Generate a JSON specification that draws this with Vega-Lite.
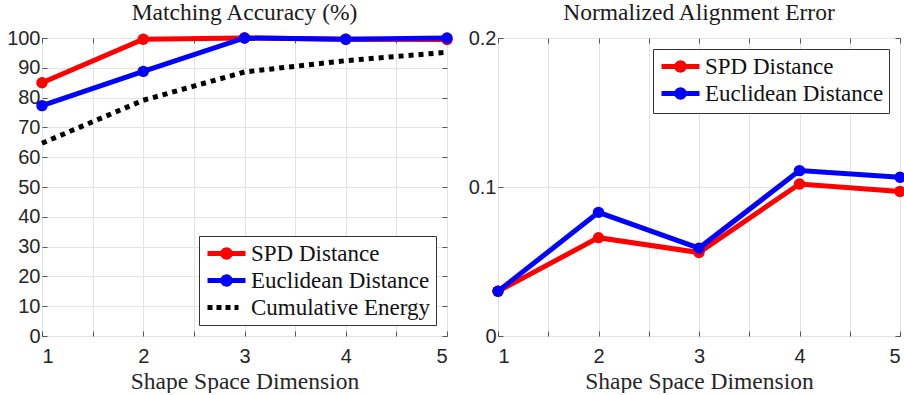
{
  "$schema": "https://vega.github.io/schema/vega-lite/v6.json",
  "background": "white",
  "padding": {"left": 6, "top": 0, "right": 0, "bottom": 0},
  "bounds": "flush",
  "spacing": 51,
  "datasets": {
    "acc": [
      {"dim": 1, "series": "SPD Distance", "value": 85.0},
      {"dim": 2, "series": "SPD Distance", "value": 99.6},
      {"dim": 3, "series": "SPD Distance", "value": 100.0},
      {"dim": 4, "series": "SPD Distance", "value": 99.6},
      {"dim": 5, "series": "SPD Distance", "value": 99.5},
      {"dim": 1, "series": "Euclidean Distance", "value": 77.3},
      {"dim": 2, "series": "Euclidean Distance", "value": 88.8},
      {"dim": 3, "series": "Euclidean Distance", "value": 100.0},
      {"dim": 4, "series": "Euclidean Distance", "value": 99.6},
      {"dim": 5, "series": "Euclidean Distance", "value": 100.0},
      {"dim": 1, "series": "Cumulative Energy", "value": 64.7},
      {"dim": 2, "series": "Cumulative Energy", "value": 79.1},
      {"dim": 3, "series": "Cumulative Energy", "value": 88.6},
      {"dim": 4, "series": "Cumulative Energy", "value": 92.4},
      {"dim": 5, "series": "Cumulative Energy", "value": 95.2}
    ],
    "err": [
      {"dim": 1, "series": "SPD Distance", "value": 0.030},
      {"dim": 2, "series": "SPD Distance", "value": 0.066},
      {"dim": 3, "series": "SPD Distance", "value": 0.056},
      {"dim": 4, "series": "SPD Distance", "value": 0.102},
      {"dim": 5, "series": "SPD Distance", "value": 0.097},
      {"dim": 1, "series": "Euclidean Distance", "value": 0.030},
      {"dim": 2, "series": "Euclidean Distance", "value": 0.083},
      {"dim": 3, "series": "Euclidean Distance", "value": 0.059},
      {"dim": 4, "series": "Euclidean Distance", "value": 0.111},
      {"dim": 5, "series": "Euclidean Distance", "value": 0.1065}
    ]
  },
  "config": {
    "view": {"stroke": "#555555", "strokeWidth": 1},
    "axis": {
      "labelFont": "Liberation Sans",
      "labelFontSize": 20,
      "labelColor": "#262626",
      "titleFont": "Liberation Serif",
      "titleFontSize": 23.5,
      "titleFontWeight": "normal",
      "titleColor": "#262626",
      "gridColor": "#e3e3e3",
      "gridWidth": 1,
      "tickColor": "#555555",
      "tickSize": -5,
      "domain": false
    },
    "title": {"font": "Liberation Serif", "fontSize": 23.5, "fontWeight": "normal", "color": "#1a1a1a", "offset": 0},
    "legend": {
      "labelFont": "Liberation Serif",
      "labelFontSize": 23,
      "labelColor": "#111111",
      "labelLimit": 0,
      "strokeColor": "#333333",
      "fillColor": "white",
      "padding": 5,
      "rowPadding": -2,
      "symbolSize": 400,
      "symbolOffset": 10,
      "labelOffset": 12,
      "symbolStrokeWidth": 5,
      "offset": 11,
      "title": null
    }
  },
  "resolve": {"scale": {"color": "independent"}, "legend": {"color": "independent"}},
  "hconcat": [
    {
      "title": "Matching Accuracy (%)",
      "width": 405,
      "height": 298,
      "data": {"name": "acc"},
      "resolve": {"axis": {"x": "independent", "y": "independent"}},
      "layer": [
        {
          "transform": [{"filter": "datum.series === 'Cumulative Energy'"}],
          "mark": {"type": "line", "strokeWidth": 5, "strokeDash": [5, 5], "strokeCap": "butt"},
          "encoding": {
            "x": {"field": "dim", "type": "quantitative", "scale": {"domain": [1, 5], "nice": false},
              "axis": {"orient": "bottom", "values": [1, 1.5, 2, 2.5, 3, 3.5, 4, 4.5, 5], "labelExpr": "datum.value % 1 === 0 ? '' + datum.value : ''", "title": "Shape Space Dimension", "grid": true, "labelPadding": 15, "titlePadding": 3}},
            "y": {"field": "value", "type": "quantitative", "scale": {"domain": [0, 100], "nice": false},
              "axis": {"orient": "left", "values": [0, 10, 20, 30, 40, 50, 60, 70, 80, 90, 100], "title": null, "grid": true, "labelPadding": 7}},
            "color": {"field": "series", "type": "nominal",
              "scale": {"domain": ["SPD Distance", "Euclidean Distance", "Cumulative Energy"], "range": ["#ff0000", "#0000ff", "#000000"]},
              "legend": {"orient": "bottom-right",
                "encode": {"symbols": {"update": {
                  "shape": [{"test": "datum.value === 'Cumulative Energy'", "value": "M-1.9,0H1.2"}, {"value": "M-1.9,0H1.9M0.37,0L0.32,0.185L0.185,0.32L0,0.37L-0.185,0.32L-0.32,0.185L-0.37,0L-0.32,-0.185L-0.185,-0.32L0,-0.37L0.185,-0.32L0.32,-0.185Z"}],
                  "fill": [{"test": "datum.value === 'SPD Distance'", "value": "#ff0000"}, {"test": "datum.value === 'Euclidean Distance'", "value": "#0000ff"}, {"value": "transparent"}],
                  "strokeDash": [{"test": "datum.value === 'Cumulative Energy'", "value": [5, 4]}, {"value": [1, 0]}],
                  "strokeWidth": {"value": 5},
                  "opacity": {"value": 1}
                }}}}}
          }
        },
        {
          "transform": [{"filter": "datum.series === 'SPD Distance'"}],
          "mark": {"type": "line", "strokeWidth": 5},
          "encoding": {
            "x": {"field": "dim", "type": "quantitative",
              "axis": {"orient": "top", "values": [1, 1.5, 2, 2.5, 3, 3.5, 4, 4.5, 5], "labels": false, "grid": false, "title": null}},
            "y": {"field": "value", "type": "quantitative",
              "axis": {"orient": "right", "values": [0, 10, 20, 30, 40, 50, 60, 70, 80, 90, 100], "labels": false, "grid": false, "title": null}},
            "color": {"field": "series", "type": "nominal"}
          }
        },
        {
          "transform": [{"filter": "datum.series === 'SPD Distance'"}],
          "mark": {"type": "point", "filled": true, "size": 130, "opacity": 1},
          "encoding": {
            "x": {"field": "dim", "type": "quantitative", "axis": null},
            "y": {"field": "value", "type": "quantitative", "axis": null},
            "color": {"field": "series", "type": "nominal"}
          }
        },
        {
          "transform": [{"filter": "datum.series === 'Euclidean Distance'"}],
          "mark": {"type": "line", "strokeWidth": 5},
          "encoding": {
            "x": {"field": "dim", "type": "quantitative", "axis": null},
            "y": {"field": "value", "type": "quantitative", "axis": null},
            "color": {"field": "series", "type": "nominal"}
          }
        },
        {
          "transform": [{"filter": "datum.series === 'Euclidean Distance'"}],
          "mark": {"type": "point", "filled": true, "size": 130, "opacity": 1},
          "encoding": {
            "x": {"field": "dim", "type": "quantitative", "axis": null},
            "y": {"field": "value", "type": "quantitative", "axis": null},
            "color": {"field": "series", "type": "nominal"}
          }
        }
      ]
    },
    {
      "title": "Normalized Alignment Error",
      "width": 402,
      "height": 298,
      "data": {"name": "err"},
      "resolve": {"axis": {"x": "independent", "y": "independent"}},
      "layer": [
        {
          "transform": [{"filter": "datum.series === 'SPD Distance'"}],
          "mark": {"type": "line", "strokeWidth": 5},
          "encoding": {
            "x": {"field": "dim", "type": "quantitative", "scale": {"domain": [1, 5], "nice": false},
              "axis": {"orient": "bottom", "values": [1, 1.5, 2, 2.5, 3, 3.5, 4, 4.5, 5], "labelExpr": "datum.value % 1 === 0 ? '' + datum.value : ''", "title": "Shape Space Dimension", "grid": true, "labelPadding": 15, "titlePadding": 3}},
            "y": {"field": "value", "type": "quantitative", "scale": {"domain": [0, 0.2], "nice": false},
              "axis": {"orient": "left", "values": [0, 0.1, 0.2], "labelExpr": "datum.value === 0 ? '0' : format(datum.value, '.1f')", "title": null, "grid": true, "labelPadding": 7}},
            "color": {"field": "series", "type": "nominal",
              "scale": {"domain": ["SPD Distance", "Euclidean Distance"], "range": ["#ff0000", "#0000ff"]},
              "legend": {"orient": "top-right",
                "encode": {"symbols": {"update": {
                  "shape": {"value": "M-1.9,0H1.9M0.37,0L0.32,0.185L0.185,0.32L0,0.37L-0.185,0.32L-0.32,0.185L-0.37,0L-0.32,-0.185L-0.185,-0.32L0,-0.37L0.185,-0.32L0.32,-0.185Z"},
                  "fill": [{"test": "datum.value === 'SPD Distance'", "value": "#ff0000"}, {"value": "#0000ff"}],
                  "strokeWidth": {"value": 5},
                  "opacity": {"value": 1}
                }}}}}
          }
        },
        {
          "transform": [{"filter": "datum.series === 'SPD Distance'"}],
          "mark": {"type": "point", "filled": true, "size": 130, "opacity": 1},
          "encoding": {
            "x": {"field": "dim", "type": "quantitative",
              "axis": {"orient": "top", "values": [1, 1.5, 2, 2.5, 3, 3.5, 4, 4.5, 5], "labels": false, "grid": false, "title": null}},
            "y": {"field": "value", "type": "quantitative",
              "axis": {"orient": "right", "values": [0, 0.1, 0.2], "labels": false, "grid": false, "title": null}},
            "color": {"field": "series", "type": "nominal"}
          }
        },
        {
          "transform": [{"filter": "datum.series === 'Euclidean Distance'"}],
          "mark": {"type": "line", "strokeWidth": 5},
          "encoding": {
            "x": {"field": "dim", "type": "quantitative", "axis": null},
            "y": {"field": "value", "type": "quantitative", "axis": null},
            "color": {"field": "series", "type": "nominal"}
          }
        },
        {
          "transform": [{"filter": "datum.series === 'Euclidean Distance'"}],
          "mark": {"type": "point", "filled": true, "size": 130, "opacity": 1},
          "encoding": {
            "x": {"field": "dim", "type": "quantitative", "axis": null},
            "y": {"field": "value", "type": "quantitative", "axis": null},
            "color": {"field": "series", "type": "nominal"}
          }
        }
      ]
    }
  ]
}
